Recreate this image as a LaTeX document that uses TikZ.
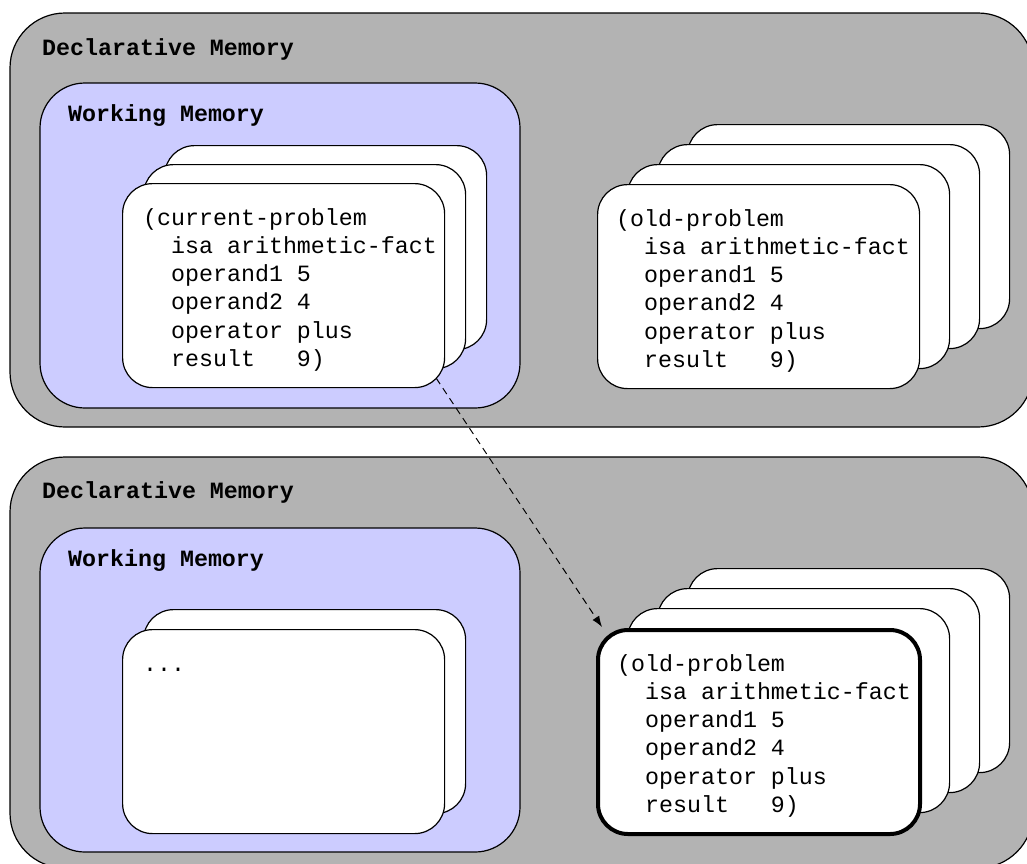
\documentclass[tikz,border=0pt]{standalone}
\usepackage{fontspec}
\usetikzlibrary{calc,arrows.meta}
\newfontfamily\chunkfont{Liberation Mono}
\definecolor{dmgray}{HTML}{B3B3B3}
\definecolor{wmblue}{HTML}{CCCCFF}
\newcommand\chunkslots[1]{\rule{0pt}{22pt}(#1\\
  \phantom{xx}isa arithmetic-fact\\
  \phantom{xx}operand1 5\\
  \phantom{xx}operand2 4\\
  \phantom{xx}operator plus\\
  \phantom{xx}result~~~9)}
\tikzset{
  region/.style={draw=black, line width=1.2pt},
  decl/.style={region, fill=dmgray, rounded corners=55pt},
  work/.style={region, fill=wmblue, rounded corners=45pt},
  chunk/.style={draw=black, fill=white, line width=1.2pt, rounded corners=30pt,
    minimum width=322pt, minimum height=204pt, inner sep=0pt, anchor=north west},
  retrieved/.style={chunk, line width=4pt},
  memlabel/.style={font=\chunkfont\bfseries\fontsize{23.3}{28}\selectfont,
    anchor=base west, inner sep=0pt},
  slots/.style={font=\chunkfont\fontsize{23.3}{28.2}\selectfont, align=left,
    anchor=north west, inner sep=0pt},
  retrieval/.style={draw=black, line width=1pt, dash pattern=on 7pt off 5pt,
    -{Latex[length=11pt,width=8pt]}}
}
\begin{document}
\begin{tikzpicture}[x=1pt, y=-1pt]
  \useasboundingbox (0,0) rectangle (1027,863);
  \fill[white] (0,0) rectangle (1027,863);
  \clip (0,0) rectangle (1027,863);

  % ---------- upper state ----------
  \draw[decl] (10,13) rectangle (1033,427);
  \node[memlabel] (dm1) at (42,55) {Declarative Memory};
  \draw[work] (40,83) rectangle (520,408);
  \node[memlabel] (wm1) at (68,121) {Working Memory};

  \node[chunk] (w1c) at (164,145) {};
  \node[chunk] (w1b) at (143,164) {};
  \node[chunk] (w1a) at (122,183) {};
  \node[slots] (w1t) at ($(w1a.north west)+(21,20)$) {\chunkslots{current-problem}};

  \node[chunk] (d1d) at (687,124) {};
  \node[chunk] (d1c) at (657,144) {};
  \node[chunk] (d1b) at (627,164) {};
  \node[chunk] (d1a) at (597,184) {};
  \node[slots] (d1t) at ($(d1a.north west)+(19,20)$) {\chunkslots{old-problem}};

  % ---------- lower state ----------
  \draw[decl] (10,457) rectangle (1033,868);
  \node[memlabel] (dm2) at (42,498) {Declarative Memory};
  \draw[work] (40,528) rectangle (520,852);
  \node[memlabel] (wm2) at (68,566) {Working Memory};

  \node[chunk] (w2b) at (143,609) {};
  \node[chunk] (w2a) at (122,629) {};
  \node[slots] (w2t) at ($(w2a.north west)+(21,20)$) {\rule{0pt}{22pt}...};

  \node[chunk] (d2d) at (687,568) {};
  \node[chunk] (d2c) at (657,588) {};
  \node[chunk] (d2b) at (627,608) {};
  \node[retrieved] (d2a) at (596,628) {};
  \node[slots] (d2t) at ($(d2a.north west)+(21,21)$) {\chunkslots{old-problem}};

  % ---------- retrieval ----------
  \coordinate (src) at ($(w1a.south east)+(-9,-10)$);
  \coordinate (dst) at ($(d2a.north west)+(6,-1)$);
  \draw[retrieval] (src) -- (dst);
\end{tikzpicture}
\end{document}
